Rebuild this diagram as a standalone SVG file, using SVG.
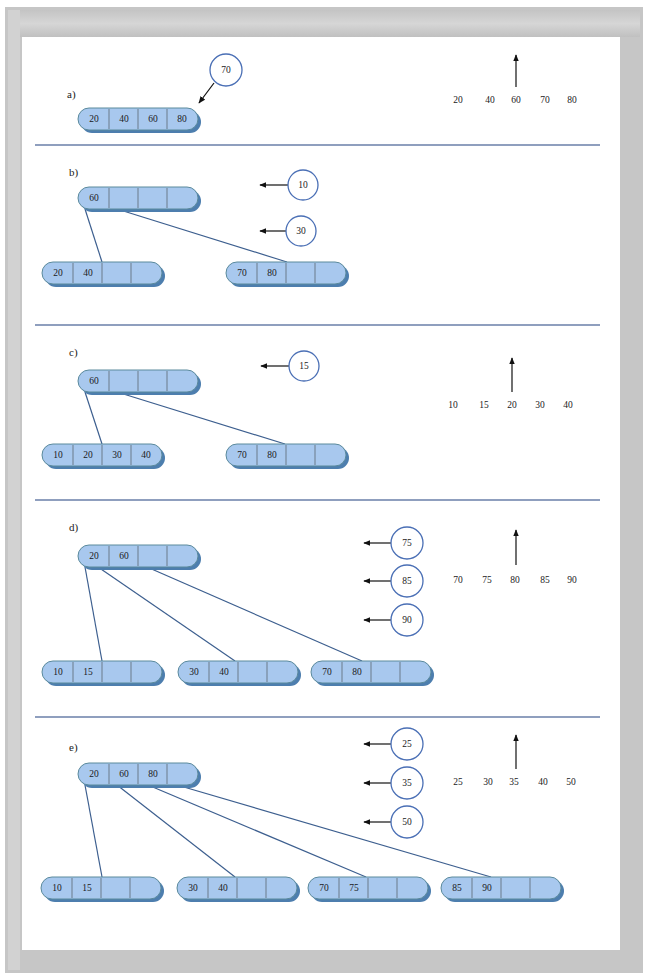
<svg xmlns="http://www.w3.org/2000/svg" width="648" height="975" viewBox="0 0 648 975">
<defs>
<style>
.t{font-family:"Liberation Serif",serif;font-size:9.5px;fill:#1a1a1a;text-anchor:middle}
.lbl{font-family:"Liberation Serif",serif;font-size:11px;fill:#1a1a1a}
.num{font-family:"Liberation Serif",serif;font-size:9.5px;fill:#1a1a1a;text-anchor:middle}
.sep{stroke:#6a7fa8;stroke-width:1.5}
.edge{stroke:#3d5f8f;stroke-width:1.2;fill:none}
.arr{stroke:#111;stroke-width:1.2;fill:none;marker-end:url(#ah)}
.circ{fill:#fff;stroke:#4a6fb5;stroke-width:1.3}
</style>
<marker id="ah" viewBox="0 0 10 10" refX="9" refY="5" markerWidth="6" markerHeight="6" orient="auto"><path d="M0,1 L10,5 L0,9 z" fill="#111"/></marker>
<linearGradient id="topg" x1="0" y1="0" x2="0" y2="1"><stop offset="0" stop-color="#c4c4c4"/><stop offset="0.5" stop-color="#d6d6d6"/><stop offset="1" stop-color="#c0c0c0"/></linearGradient>
<g id="cap">
<rect x="3" y="3" width="120" height="22" rx="11" fill="#4d7eae"/>
<rect x="0" y="0" width="120" height="22" rx="11" fill="#a8c8ee" stroke="#5b8a9c" stroke-width="1"/>
<line x1="31" y1="1" x2="31" y2="21" stroke="#6a7a8a" stroke-width="1"/>
<line x1="60" y1="1" x2="60" y2="21" stroke="#6a7a8a" stroke-width="1"/>
<line x1="89" y1="1" x2="89" y2="21" stroke="#6a7a8a" stroke-width="1"/>
</g>
</defs>
<rect x="5" y="7" width="638" height="966" fill="#c6c6c6"/>
<rect x="8" y="10" width="632" height="27" fill="url(#topg)"/>
<rect x="8" y="10" width="12" height="960" fill="#d2d2d2"/>
<rect x="22" y="37" width="598" height="913" fill="#ffffff"/>
<g id="separators">
<line class="sep" x1="35" y1="145" x2="600" y2="145"/>
<line class="sep" x1="35" y1="325" x2="600" y2="325"/>
<line class="sep" x1="35" y1="500" x2="600" y2="500"/>
<line class="sep" x1="35" y1="717" x2="600" y2="717"/>
</g>
<g id="labels">
<text class="lbl" x="67" y="98">a)</text>
<text class="lbl" x="69" y="176">b)</text>
<text class="lbl" x="69" y="356">c)</text>
<text class="lbl" x="69" y="531">d)</text>
<text class="lbl" x="69" y="751">e)</text>
</g>
<g id="connectors">
<line class="edge" x1="85" y1="209" x2="102" y2="262"/>
<line class="edge" x1="117" y1="209" x2="287" y2="262"/>
<line class="edge" x1="85" y1="392" x2="102" y2="444"/>
<line class="edge" x1="117" y1="392" x2="285" y2="444"/>
<line class="edge" x1="85" y1="567" x2="102" y2="661"/>
<line class="edge" x1="98" y1="567" x2="235" y2="661"/>
<line class="edge" x1="147" y1="567" x2="362" y2="661"/>
<line class="edge" x1="85" y1="785" x2="102" y2="877"/>
<line class="edge" x1="117" y1="785" x2="235" y2="877"/>
<line class="edge" x1="148" y1="785" x2="366" y2="877"/>
<line class="edge" x1="177" y1="785" x2="491" y2="877"/>
<line class="arr" x1="214" y1="83" x2="199" y2="103"/>
<line class="arr" x1="288" y1="185" x2="260" y2="185"/>
<line class="arr" x1="286" y1="231" x2="260" y2="231"/>
<line class="arr" x1="289" y1="366" x2="261" y2="366"/>
<line class="arr" x1="391" y1="543" x2="364" y2="543"/>
<line class="arr" x1="391" y1="581" x2="364" y2="581"/>
<line class="arr" x1="391" y1="620" x2="364" y2="620"/>
<line class="arr" x1="391" y1="744" x2="364" y2="744"/>
<line class="arr" x1="391" y1="783" x2="364" y2="783"/>
<line class="arr" x1="391" y1="822" x2="364" y2="822"/>
<line class="arr" x1="516" y1="87" x2="516" y2="55"/>
<line class="arr" x1="512" y1="392" x2="512" y2="358"/>
<line class="arr" x1="516" y1="565" x2="516" y2="530"/>
<line class="arr" x1="516" y1="769" x2="516" y2="735"/>
</g>
<g id="seqA"><text class="num" x="458" y="103">20</text><text class="num" x="490" y="103">40</text><text class="num" x="516" y="103">60</text><text class="num" x="545" y="103">70</text><text class="num" x="572" y="103">80</text></g>
<g id="seqC"><text class="num" x="453" y="408">10</text><text class="num" x="484" y="408">15</text><text class="num" x="512" y="408">20</text><text class="num" x="540" y="408">30</text><text class="num" x="568" y="408">40</text></g>
<g id="seqD"><text class="num" x="458" y="583">70</text><text class="num" x="487" y="583">75</text><text class="num" x="515" y="583">80</text><text class="num" x="545" y="583">85</text><text class="num" x="572" y="583">90</text></g>
<g id="seqE"><text class="num" x="458" y="785">25</text><text class="num" x="488" y="785">30</text><text class="num" x="514" y="785">35</text><text class="num" x="543" y="785">40</text><text class="num" x="571" y="785">50</text></g>
<g id="k70"><circle class="circ" cx="226" cy="70" r="16"/><text class="t" x="226" y="73">70</text></g>
<g id="k10"><circle class="circ" cx="303" cy="185" r="15"/><text class="t" x="303" y="188">10</text></g>
<g id="k30"><circle class="circ" cx="301" cy="231" r="15"/><text class="t" x="301" y="234">30</text></g>
<g id="k15"><circle class="circ" cx="304" cy="366" r="15"/><text class="t" x="304" y="369">15</text></g>
<g id="k75"><circle class="circ" cx="407" cy="543" r="16"/><text class="t" x="407" y="546">75</text></g>
<g id="k85"><circle class="circ" cx="407" cy="581" r="16"/><text class="t" x="407" y="584">85</text></g>
<g id="k90"><circle class="circ" cx="407" cy="620" r="16"/><text class="t" x="407" y="623">90</text></g>
<g id="k25"><circle class="circ" cx="407" cy="744" r="16"/><text class="t" x="407" y="747">25</text></g>
<g id="k35"><circle class="circ" cx="407" cy="783" r="16"/><text class="t" x="407" y="786">35</text></g>
<g id="k50"><circle class="circ" cx="407" cy="822" r="16"/><text class="t" x="407" y="825">50</text></g>
<g id="nA" transform="translate(78,108)"><use href="#cap"/><text class="t" x="16" y="14">20</text><text class="t" x="46" y="14">40</text><text class="t" x="75" y="14">60</text><text class="t" x="104" y="14">80</text></g>
<g id="nB0" transform="translate(78,187)"><use href="#cap"/><text class="t" x="16" y="14">60</text></g>
<g id="nB1" transform="translate(42,262)"><use href="#cap"/><text class="t" x="16" y="14">20</text><text class="t" x="46" y="14">40</text></g>
<g id="nB2" transform="translate(226,262)"><use href="#cap"/><text class="t" x="16" y="14">70</text><text class="t" x="46" y="14">80</text></g>
<g id="nC0" transform="translate(78,370)"><use href="#cap"/><text class="t" x="16" y="14">60</text></g>
<g id="nC1" transform="translate(42,444)"><use href="#cap"/><text class="t" x="16" y="14">10</text><text class="t" x="46" y="14">20</text><text class="t" x="75" y="14">30</text><text class="t" x="104" y="14">40</text></g>
<g id="nC2" transform="translate(226,444)"><use href="#cap"/><text class="t" x="16" y="14">70</text><text class="t" x="46" y="14">80</text></g>
<g id="nD0" transform="translate(78,545)"><use href="#cap"/><text class="t" x="16" y="14">20</text><text class="t" x="46" y="14">60</text></g>
<g id="nD1" transform="translate(42,661)"><use href="#cap"/><text class="t" x="16" y="14">10</text><text class="t" x="46" y="14">15</text></g>
<g id="nD2" transform="translate(178,661)"><use href="#cap"/><text class="t" x="16" y="14">30</text><text class="t" x="46" y="14">40</text></g>
<g id="nD3" transform="translate(311,661)"><use href="#cap"/><text class="t" x="16" y="14">70</text><text class="t" x="46" y="14">80</text></g>
<g id="nE0" transform="translate(78,763)"><use href="#cap"/><text class="t" x="16" y="14">20</text><text class="t" x="46" y="14">60</text><text class="t" x="75" y="14">80</text></g>
<g id="nE1" transform="translate(41,877)"><use href="#cap"/><text class="t" x="16" y="14">10</text><text class="t" x="46" y="14">15</text></g>
<g id="nE2" transform="translate(177,877)"><use href="#cap"/><text class="t" x="16" y="14">30</text><text class="t" x="46" y="14">40</text></g>
<g id="nE3" transform="translate(308,877)"><use href="#cap"/><text class="t" x="16" y="14">70</text><text class="t" x="46" y="14">75</text></g>
<g id="nE4" transform="translate(441,877)"><use href="#cap"/><text class="t" x="16" y="14">85</text><text class="t" x="46" y="14">90</text></g>
</svg>
